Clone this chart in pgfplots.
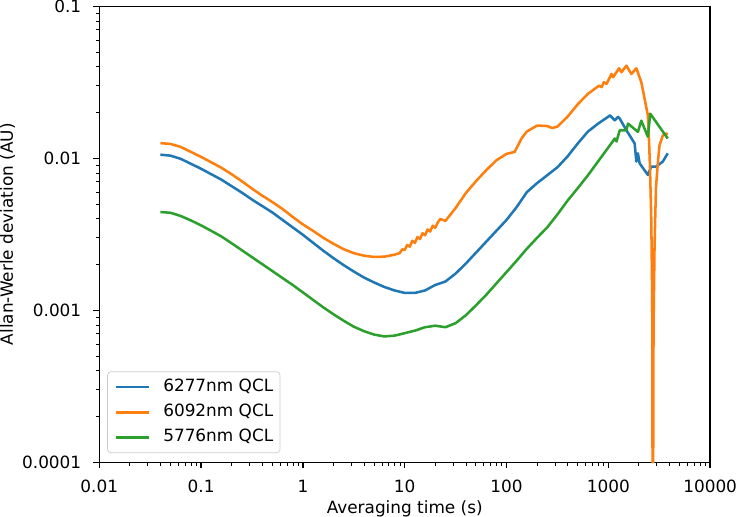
\documentclass[border=0pt]{standalone}
\usepackage{fontspec}
\setmainfont{DejaVu Sans}
\usepackage{pgfplots}
\pgfplotsset{compat=1.18}
\definecolor{cblue}{HTML}{1F77B4}
\definecolor{corange}{HTML}{FF7F0E}
\definecolor{cgreen}{HTML}{2CA02C}
\begin{document}
\begin{tikzpicture}
\begin{axis}[
  xmode=log, ymode=log,
  width=361.8pt, height=270pt, scale only axis,
  xmin=0.01, xmax=10000, ymin=0.0001, ymax=0.1,
  xtick={0.01,0.1,1,10,100,1000,10000},
  xticklabels={0.01,0.1,1,10,100,1000,10000},
  ytick={0.0001,0.001,0.01,0.1},
  yticklabels={0.0001,0.001,0.01,0.1},
  minor xtick={0.02,0.03,0.04,0.05,0.06,0.07,0.08,0.09,0.2,0.3,0.4,0.5,0.6,0.7,0.8,0.9,2,3,4,5,6,7,8,9,20,30,40,50,60,70,80,90,200,300,400,500,600,700,800,900,2000,3000,4000,5000,6000,7000,8000,9000},
  minor ytick={0.0002,0.0003,0.0004,0.0005,0.0006,0.0007,0.0008,0.0009,0.002,0.003,0.004,0.005,0.006,0.007,0.008,0.009,0.02,0.03,0.04,0.05,0.06,0.07,0.08,0.09},
  tick align=outside, tick pos=left,
  major tick length=3.5pt, minor tick length=2pt,
  every major tick/.append style={line width=0.8pt, black},
  every minor tick/.append style={line width=0.6pt, black},
  axis line style={line width=0.8pt},
  tick label style={font=\fontsize{10}{12}\selectfont},
  xticklabel style={inner xsep=0pt, inner ysep=3.5pt},
  yticklabel style={inner ysep=0pt, inner xsep=3.5pt},
  xticklabel shift=3.5pt, yticklabel shift=3.5pt,
  label style={font=\fontsize{10}{12}\selectfont},
  xlabel style={inner ysep=0pt, yshift=-0.5pt},
  ylabel style={inner ysep=0pt, yshift=0.5pt},
  xlabel={Averaging time (s)},
  ylabel={Allan-Werle deviation (AU)},
  legend style={at={(0.013,0.02)}, anchor=south west, draw=black!20,
    rounded corners=2pt, font=\fontsize{10}{12}\selectfont,
    nodes={inner sep=0pt, text height=7.5pt, text depth=2.5pt},
    row sep=5pt, column sep=7.5pt, inner xsep=4pt, inner ysep=4pt},
  legend cell align=left,
  legend image code/.code={\draw[#1] (0pt,0pt) -- (20pt,0pt);},
]
\addplot[cblue, line width=1.5pt, line join=round] table {
0.03981 0.010573
0.05012 0.010415
0.0631 0.009925
0.07943 0.009205
0.1 0.008540
0.1259 0.007860
0.1585 0.007236
0.1995 0.006562
0.2512 0.005950
0.3162 0.005355
0.3981 0.004856
0.5012 0.004403
0.631 0.003933
0.7943 0.003514
1 0.003139
1.259 0.002783
1.585 0.002467
1.995 0.002204
2.512 0.001984
3.162 0.001799
3.981 0.001643
5.012 0.001524
6.31 0.001424
7.943 0.001351
10 0.001301
12.59 0.001301
15.85 0.001351
19.95 0.001468
25.12 0.001547
31.62 0.001745
39.81 0.002029
50.12 0.002394
63.1 0.002825
79.43 0.003333
100 0.003933
125.9 0.004783
158.5 0.005995
199.5 0.006866
251.2 0.007743
316.2 0.008736
398.1 0.010306
501.2 0.012534
631 0.015017
794.3 0.016935
1000 0.018814
1034 0.01919
1157 0.01780
1246 0.01873
1295 0.01826
1505 0.01531
1814 0.01253
1884 0.00952
1953 0.01078
2029 0.00927
2445 0.00778
2639 0.00883
2953 0.00883
3425 0.00952
3832 0.01078
};
\addlegendentry{6277nm QCL}
\addplot[corange, line width=1.5pt, line join=round] table {
0.03981 0.012589
0.05012 0.012438
0.0631 0.011888
0.07943 0.011026
0.1 0.010228
0.1259 0.009416
0.1585 0.008669
0.1995 0.007860
0.2512 0.007075
0.3162 0.006319
0.3981 0.005685
0.5012 0.005157
0.631 0.004642
0.7943 0.004115
1 0.003675
1.259 0.003333
1.585 0.003000
1.995 0.002741
2.512 0.002524
3.162 0.002376
3.981 0.002288
5.012 0.002244
6.31 0.002254
7.943 0.002323
8.913 0.002376
9.441 0.002520
10 0.002497
10.59 0.002688
11.22 0.002624
11.89 0.002868
12.59 0.002779
13.34 0.003036
14.13 0.002942
14.96 0.003215
15.85 0.003115
16.79 0.003405
17.78 0.003299
18.84 0.003604
19.95 0.003493
21.13 0.003789
22.39 0.003993
25.12 0.003877
31.62 0.004711
39.81 0.005905
50.12 0.007075
63.1 0.008348
79.43 0.009704
100 0.010701
120.2 0.011026
141.3 0.013614
158.5 0.015017
199.5 0.016434
251.2 0.016311
281.8 0.015828
316.2 0.016188
398.1 0.018814
501.2 0.022708
631 0.026594
813 0.03013
858 0.02941
904 0.03172
960 0.03091
1074 0.03593
1114 0.03420
1275 0.03915
1345 0.03686
1505 0.04073
1684 0.03593
1884 0.03915
2108 0.03172
2271 0.02467
2445 0.01919
2500 0.01413
2567 0.00860
2639 0.004054
2699 0.001216
2735 0.00001
2779 0.000774
2842 0.002582
2935 0.006368
3061 0.00927
3180 0.01216
3425 0.01413
3697 0.01456
3832 0.01435
};
\addlegendentry{6092nm QCL}
\addplot[cgreen, line width=1.5pt, line join=round] table {
0.03981 0.004436
0.05012 0.004383
0.0631 0.004175
0.07943 0.003904
0.1 0.003621
0.1259 0.003333
0.1585 0.003059
0.1995 0.002762
0.2512 0.002486
0.3162 0.002237
0.3981 0.002013
0.5012 0.001812
0.631 0.001630
0.7943 0.001468
1 0.001311
1.259 0.001171
1.585 0.001046
1.995 0.000942
2.512 0.000854
3.162 0.000780
3.981 0.000729
5.012 0.000692
6.31 0.000673
7.943 0.000681
10 0.000707
12.59 0.000735
15.85 0.000774
19.95 0.000792
25.12 0.000774
31.62 0.000823
39.81 0.000927
50.12 0.001078
63.1 0.001263
79.43 0.001501
100 0.001785
125.9 0.002123
158.5 0.002543
199.5 0.003000
251.2 0.003514
316.2 0.004272
398.1 0.005275
501.2 0.006367
631 0.007743
794.3 0.009559
1000 0.011799
1122 0.013111
1157 0.01351
1202 0.01291
1295 0.01531
1505 0.01531
1561 0.01693
1953 0.01494
2108 0.01771
2445 0.01387
2580 0.01968
3180 0.01612
3832 0.01351
};
\addlegendentry{5776nm QCL}
\end{axis}
\end{tikzpicture}
\end{document}
